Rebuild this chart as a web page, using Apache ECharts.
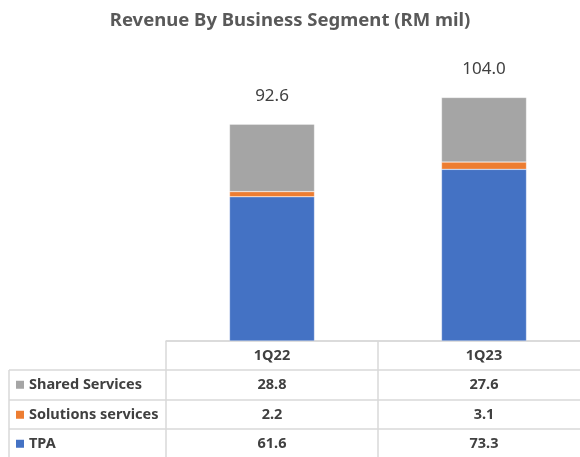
<!DOCTYPE html>
<html>
<head>
<meta charset="utf-8">
<script src="https://cdn.jsdelivr.net/npm/echarts@6/dist/echarts.min.js"></script>
<style>
    html, body { margin: 0; padding: 0; background: #fff; }
    #chart { width: 580px; height: 457px; }
</style>
</head>
<body>
<div id="chart"></div>
<script>
// data
const categories = ['1Q22', '1Q23'];
const seriesNames = ['Shared Services', 'Solutions services', 'TPA'];
const sharedServices = [28.8, 27.6];
const solutionsServices = [2.2, 3.1];
const tpa = [61.6, 73.3];

const COLORS = {
    'TPA': '#4472C4',
    'Solutions services': '#ED7D31',
    'Shared Services': '#A5A5A5'
};
const TABLE_LINE = '#D9D9D9';
const TEXT_COLOR = '#404040';
const FONT = '"Noto Sans", sans-serif';

const valuesByName = {
    'Shared Services': sharedServices,
    'Solutions services': solutionsServices,
    'TPA': tpa
};

const totals = categories.map((c, i) =>
    tpa[i] + solutionsServices[i] + sharedServices[i]
);

// stacking order bottom → top
const stackOrder = ['TPA', 'Solutions services', 'Shared Services'];

const chart = echarts.init(document.getElementById('chart'), null, {
    renderer: 'canvas'
});

const series = stackOrder.map((name, idx) => ({
    name: name,
    type: 'bar',
    stack: 'total',
    barWidth: 85,
    data: valuesByName[name],
    itemStyle: {
        color: COLORS[name],
        borderColor: 'rgba(255,255,255,0.6)',
        borderWidth: 0.5
    },
    label: idx === stackOrder.length - 1 ? {
        show: true,
        position: 'top',
        distance: 20,
        color: TEXT_COLOR,
        fontFamily: FONT,
        fontSize: 17,
        formatter: p => totals[p.dataIndex].toFixed(1)
    } : { show: false }
}));

chart.setOption({
    animation: false,
    title: {
        text: 'Revenue By Business Segment (RM mil)',
        left: 'center',
        top: 6,
        textStyle: {
            color: '#595959',
            fontFamily: FONT,
            fontSize: 18.5,
            fontWeight: 'bold'
        }
    },
    grid: {
        left: 166,
        width: 424,
        top: 60,
        bottom: 116,
        outerBoundsMode: 'none',
        containLabel: false
    },
    xAxis: {
        type: 'category',
        data: categories,
        axisTick: { show: false },
        axisLabel: { show: false },
        axisLine: {
            show: true,
            lineStyle: { color: TABLE_LINE, width: 1.5 }
        }
    },
    yAxis: {
        type: 'value',
        min: 0,
        max: 120,
        show: false,
        splitLine: { show: false }
    },
    series: series
});

// data table under the plot
const rowLines = [341, 370, 400, 429];
const rowHeight = 29.5;
const leftEdge = 9;
const firstCol = 166;
const colBorder = (chart.convertToPixel({ xAxisIndex: 0 }, 0) +
    chart.convertToPixel({ xAxisIndex: 0 }, 1)) / 2;
const bottom = 457;

const line = (x1, y1, x2, y2) => ({
    type: 'line',
    shape: { x1, y1, x2, y2 },
    style: { stroke: TABLE_LINE, lineWidth: 1.5 },
    silent: true
});

const cellText = (text, x, y, align) => ({
    type: 'text',
    x: x,
    y: y,
    style: {
        text: text,
        fill: TEXT_COLOR,
        font: 'bold 14.5px ' + FONT,
        align: align || 'center',
        verticalAlign: 'middle'
    },
    silent: true
});

const elements = [];
// vertical borders
elements.push(line(firstCol, rowLines[0], firstCol, bottom));
elements.push(line(colBorder, rowLines[0], colBorder, bottom));
elements.push(line(leftEdge, rowLines[1], leftEdge, bottom));
// horizontal borders
elements.push(line(firstCol, rowLines[0], 580, rowLines[0]));
for (let r = 1; r < rowLines.length; r++) {
    elements.push(line(leftEdge, rowLines[r], 580, rowLines[r]));
}

// header row
categories.forEach((cat, i) => {
    const cx = chart.convertToPixel({ xAxisIndex: 0 }, i);
    elements.push(cellText(cat, cx, rowLines[0] + rowHeight / 2));
});

// body rows
seriesNames.forEach((name, r) => {
    const cy = rowLines[r + 1] + rowHeight / 2;
    elements.push({
        type: 'rect',
        shape: { x: 16, y: cy - 4, width: 8, height: 8 },
        style: { fill: COLORS[name] },
        silent: true
    });
    elements.push(cellText(name, 29, cy, 'left'));
    valuesByName[name].forEach((v, i) => {
        const cx = chart.convertToPixel({ xAxisIndex: 0 }, i);
        elements.push(cellText(v.toFixed(1), cx, cy));
    });
});

chart.setOption({ graphic: { elements: elements } });
</script>
</body>
</html>
